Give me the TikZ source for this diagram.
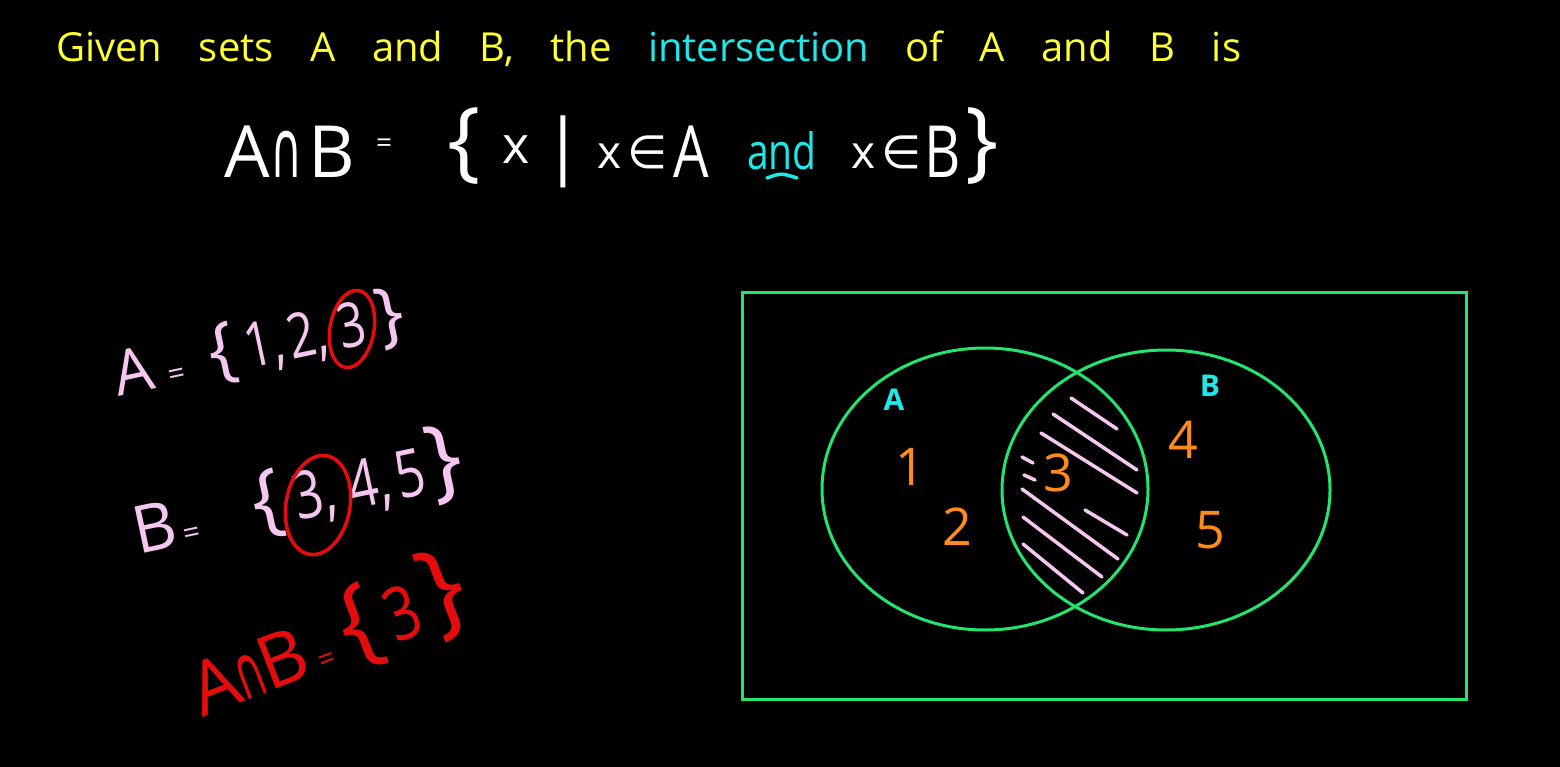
\documentclass[tikz,border=0pt]{standalone}
\usepackage{fontspec}
\setmainfont{Open Sans}
\newfontfamily\hand[FakeStretch=0.78]{Open Sans}
\newfontfamily\symf{DejaVu Sans}
\newfontfamily\symn[FakeStretch=0.55]{DejaVu Sans}
\newcommand{\fs}[1]{\fontsize{#1}{#1}\selectfont}
\definecolor{hyellow}{RGB}{255,255,50}
\definecolor{hcyan}{RGB}{30,232,232}
\definecolor{hpink}{RGB}{245,198,240}
\definecolor{hred}{RGB}{228,12,12}
\definecolor{hgreen}{RGB}{34,228,110}
\definecolor{horange}{RGB}{255,140,26}
\tikzset{
  titletext/.style={font=\fs{40}, text=hyellow, inner sep=0pt, anchor=base west},
  caps/.style={font=\hand\fs{72}, text=white, inner sep=0pt, anchor=base west},
  lower/.style={font=\fs{46}, text=white, inner sep=0pt},
  brace/.style={font=\fs{88}, text=white, inner sep=0pt},
  pinktext/.style={text=hpink, inner sep=0pt, anchor=base west},
  redtext/.style={text=hred, inner sep=0pt, anchor=base west},
  venn/.style={draw=hgreen, line width=3pt},
  ring/.style={draw=hred, line width=3.5pt},
  hatch/.style={draw=hpink, line width=3.5pt, line cap=round},
  vlabel/.style={text=hcyan, font=\fs{30}\bfseries, inner sep=0pt},
  elem/.style={text=horange, font=\fs{52}, inner sep=0pt},
}
\begin{document}
\begin{tikzpicture}[x=1pt,y=-1pt]
\fill[black] (0,0) rectangle (1560,767);
\useasboundingbox (0,0) rectangle (1560,767);

% title
\node[titletext] (title) at (56,62) {\spaceskip=36.5pt Given sets A and B, the \textcolor{hcyan}{intersection} of A and B is};

% formula
\node[caps, font=\fs{72}] (fAB) at (224,178) {A\hspace{1pt}{\symn\fs{80}∩}\hspace{6pt}B};
\node[text=white, font=\fs{28}, inner sep=0pt] (feq) at (384,146) {=};
\node[brace] (flb) at (464,146) {\{};
\node[lower, font=\fs{52}] (fx) at (516,150) {x};
\node[font=\fs{72}, text=white, inner sep=0pt] (fbar) at (563,152) {|};
\node[lower, anchor=west] (fxe1) at (597,152) {x\hspace{6pt}{\symf ∈}};
\node[caps] (fA) at (673,178) {A};
\node[lower, font=\hand\fs{50}, text=hcyan, anchor=base west] (fand) at (747,170) {and};
\draw[hcyan, line width=3.5pt, line cap=round] (767,178) .. controls (781,173) .. (797,178);
\node[lower, anchor=west] (fxe2) at (851,152) {x\hspace{6pt}{\symf ∈}};
\node[caps] (fB) at (924,178) {B};
\node[brace] (frb) at (982,146) {\}};

% left sets
\node[pinktext, rotate=12, font=\fs{62}] (setA) at (118,397)
  {A\hspace{14pt}{\fs{30}=}\hspace{27pt}{\fs{72}\{}\hspace{10pt}{\hand 1,\hspace{4pt}2,\hspace{12pt}3}\hspace{12pt}{\fs{72}\}}};
\draw[ring, rotate around={-10:(352,329)}] (352,329) ellipse [x radius=22, y radius=39];

\node[pinktext, rotate=12, font=\fs{66}] (setB) at (138,555)
  {B\hspace{6pt}{\fs{30}=}\hspace{56pt}{\fs{80}\{}\hspace{12pt}{\hand 3,\hspace{14pt}4,\hspace{6pt}5}\hspace{4pt}{\fs{92}\}}};
\draw[ring, rotate around={-10:(318,505)}] (318,505) ellipse [x radius=32, y radius=50];

\node[redtext, rotate=21, font=\fs{74}] (setAB) at (202,718)
  {A\hspace{-2pt}{\symn ∩}\hspace{-2pt}B\hspace{8pt}{\fs{30}=}\hspace{14pt}{\fs{100}\{}\hspace{10pt}{\hand 3}\hspace{10pt}{\fs{108}\}}};

% Venn diagram
\draw[venn] (742,292) rectangle (1466,699);
\draw[venn] (985,489) ellipse [x radius=163, y radius=141];
\draw[venn] (1166,490) ellipse [x radius=164, y radius=140];

\foreach \a/\b/\c/\d in {1071/398/1117/429, 1053/414/1137/470, 1041/433/1137/493,
  1022/457/1033/463, 1024/475/1035/480, 1022/489/1118/559, 1085/510/1127/535,
  1023/517/1102/577, 1023/544/1083/593}
  \draw[hatch] (\a,\b) -- (\c,\d);

\node[vlabel] (lA) at (894,400) {A};
\node[vlabel] (lB) at (1210,386) {B};
\node[elem] (e1) at (910,467) {1};
\node[elem] (e2) at (957,527) {2};
\node[elem] (e3) at (1058,473) {3};
\node[elem] (e4) at (1183,440) {4};
\node[elem] (e5) at (1210,530) {5};
\end{tikzpicture}
\end{document}
